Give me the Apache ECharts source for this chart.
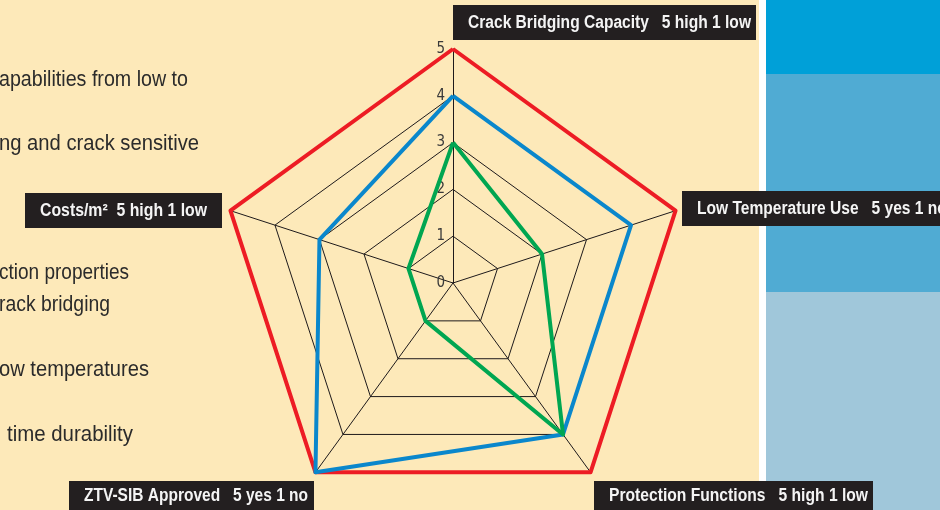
<!DOCTYPE html>
<html>
<head>
<meta charset="utf-8">
<script src="https://cdn.jsdelivr.net/npm/echarts@6/dist/echarts.min.js"></script>
<style>
html,body{margin:0;padding:0;background:#fde9b9;}
#chart{width:940px;height:510px;}
</style>
</head>
<body>
<div id="chart"></div>
<script>
// ---- data ----
var indicators = ['Crack Bridging Capacity', 'Costs/m²', 'ZTV-SIB Approved', 'Protection Functions', 'Low Temperature Use'];
var indicatorMax = 5;
var redValues = [5, 5, 5, 5, 5];
var blueValues = [4, 3, 5, 4, 4];
var greenValues = [3, 1, 1, 4, 2];
var tickLabels = ['0', '1', '2', '3', '4', '5'];
var axisTitles = [
  'Crack Bridging Capacity   5 high 1 low',
  'Costs/m²  5 high 1 low',
  'ZTV-SIB Approved   5 yes 1 no',
  'Protection Functions   5 high 1 low',
  'Low Temperature Use   5 yes 1 no'
];
var sideText = [
  'apabilities from low to',
  'ng and crack sensitive',
  'ction properties',
  'rack bridging',
  'ow temperatures',
  'time durability'
];

// ---- chart ----
var FONT = "'Liberation Sans', Arial, sans-serif";
var BOX_FONT = 'bold 18px ' + FONT;
var SIDE_FONT = '22px ' + FONT;
var CX = 453, CY = 283, R = 234;

var mctx = document.createElement('canvas').getContext('2d');
function measure(text, font) { mctx.font = font; return mctx.measureText(text).width; }
function fitScale(text, font, target) { return target / measure(text, font); }

var chart = echarts.init(document.getElementById('chart'), null, {renderer: 'canvas'});

var boxSpecs = [
  {x: 453, y: 5, w: 303, h: 35, tx: 468, tw: 283},
  {x: 25, y: 193, w: 197, h: 35, tx: 40, tw: 167},
  {x: 69, y: 481, w: 245, h: 30, tx: 84, tw: 224},
  {x: 594, y: 481, w: 279, h: 30, tx: 609, tw: 259},
  {x: 682, y: 191, w: 260, h: 35, tx: 697, tw: null}
];
var scales = boxSpecs.map(function (b, i) { return b.tw ? fitScale(axisTitles[i], BOX_FONT, b.tw) : null; });
var avgScale = (scales[0] + scales[2] + scales[3]) / 3;

var graphics = [
  {type: 'rect', z: -10, shape: {x: 759, y: 0, width: 7, height: 510}, style: {fill: '#ffffff'}},
  {type: 'rect', z: -10, shape: {x: 766, y: 0, width: 174, height: 74}, style: {fill: '#00a0d8'}},
  {type: 'rect', z: -10, shape: {x: 766, y: 74, width: 174, height: 218}, style: {fill: '#50abd3'}},
  {type: 'rect', z: -10, shape: {x: 766, y: 292, width: 174, height: 218}, style: {fill: '#a0c7da'}}
];
boxSpecs.forEach(function (b, i) {
  graphics.push({
    type: 'group', z: 50,
    children: [
      {type: 'rect', shape: {x: b.x, y: b.y, width: b.w, height: b.h}, style: {fill: '#231f20'}},
      {type: 'text', x: b.tx, y: b.y + b.h / 2 + 0.5, scaleX: scales[i] || avgScale,
        style: {text: axisTitles[i], fill: '#f4f4f4', font: BOX_FONT, verticalAlign: 'middle', textVerticalAlign: 'middle'}}
    ]
  });
});

var sideSpecs = [
  {x: -1, y: 80, tw: 189},
  {x: -1, y: 144, tw: 200},
  {x: -1, y: 273, tw: 130},
  {x: -1, y: 305, tw: 111},
  {x: -1, y: 370, tw: 150},
  {x: 7, y: 435, tw: 126}
];
sideSpecs.forEach(function (s, i) {
  graphics.push({type: 'text', z: 5, x: s.x, y: s.y, scaleX: fitScale(sideText[i], SIDE_FONT, s.tw),
    style: {text: sideText[i], fill: '#2b2b2b', font: SIDE_FONT, verticalAlign: 'middle', textVerticalAlign: 'middle'}});
});

var option = {
  backgroundColor: '#fde9b9',
  animation: false,
  graphic: graphics,
  radar: {
    center: [CX, CY],
    radius: R,
    startAngle: 90,
    shape: 'polygon',
    splitNumber: 5,
    indicator: indicators.map(function (n) { return {name: n, min: 0, max: indicatorMax}; }),
    axisName: {show: false},
    splitArea: {show: false},
    splitLine: {lineStyle: {color: '#1e1a1b', width: 1}},
    axisLine: {lineStyle: {color: '#1e1a1b', width: 1}},
    axisTick: {show: false},
    axisLabel: {show: false}
  },
  polar: {center: [CX, CY], radius: R},
  angleAxis: {show: false, min: 0, max: 360, startAngle: 90},
  radiusAxis: {
    min: 0, max: 5, interval: 1,
    axisLine: {show: false}, axisTick: {show: false}, splitLine: {show: false},
    axisLabel: {
      color: '#3a3a3a', fontSize: 15, fontFamily: "'DejaVu Sans Condensed', " + FONT, margin: 8,
      padding: [0, 0, 11, 0],
      formatter: function (v) { return tickLabels[Math.round(v)]; }
    }
  },
  series: [{
    type: 'radar',
    symbol: 'none',
    data: [
      {value: redValues, lineStyle: {color: '#ed1c24', width: 4}},
      {value: blueValues, lineStyle: {color: '#0a87cc', width: 4}},
      {value: greenValues, lineStyle: {color: '#00a651', width: 4}}
    ]
  }]
};
chart.setOption(option);
</script>
</body>
</html>
